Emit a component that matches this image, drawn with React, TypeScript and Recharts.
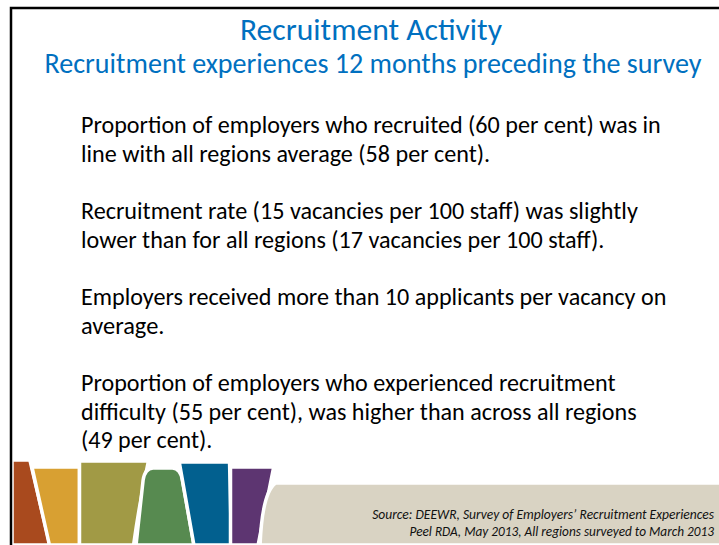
import React from 'react';
import { BarChart, Bar, XAxis, YAxis } from 'recharts';

// slide text
const TITLE = 'Recruitment Activity';
const SUBTITLE = 'Recruitment experiences 12 months preceding the survey';
const POINTS = [
  ['Proportion of employers who recruited (60 per cent) was in', 'line with all regions average (58 per cent).'],
  ['Recruitment rate (15 vacancies per 100 staff) was slightly', 'lower than for all regions (17 vacancies per 100 staff).'],
  ['Employers received more than 10 applicants per vacancy on', 'average.'],
  [
    'Proportion of employers who experienced recruitment',
    'difficulty (55 per cent), was higher than across all regions',
    '(49 per cent).',
  ],
];
const SOURCE_LINES = [
  'Source:  DEEWR, Survey of Employers\u2019 Recruitment Experiences',
  'Peel RDA, May 2013, All regions surveyed to March 2013',
];

// decorative footer bands
const BAND_KEYS = ['rust', 'gold', 'olive', 'green', 'blue', 'plum', 'sand'];
const BAND_SPANS = [28, 39.5, 61.5, 45.5, 44, 36, 463.5];
const BAND_RISES = [85, 78, 84, 77, 83, 78, 62];

const BAND_COLORS = ['#A94A1E', '#D8A032', '#A19A45', '#578A50', '#02608F', '#5D3571', '#D9D3C3'];
// [left lean, right lean] of each band edge, px
const BAND_LEANS = [[0, -10], [-9.5, 0], [0, 7.5], [5, -7.5], [-7.5, -1], [0, 8.5], [6.5, 0]];
const RISE_MAX = 90;

const FONT = 'Carlito, Calibri, Lato, sans-serif';

// Calibri advance widths (units of 1/2048 em)
const CW: Record<string, number> = {
  ' ': 463, '(': 621, ')': 621, ',': 511, '.': 517, ':': 548, '\u2019': 511,
  A: 1185, D: 1260, E: 1000, M: 1751, P: 1058, R: 1112, S: 941, W: 1822,
  a: 981, b: 1076, c: 866, d: 1076, e: 1019, f: 625, g: 964, h: 1076, i: 470, j: 490,
  k: 931, l: 470, m: 1636, n: 1076, o: 1080, p: 1076, q: 1076, r: 714, s: 801, t: 686,
  u: 1076, v: 925, w: 1464, x: 887, y: 927, z: 809,
};
const textWidth = (s: string, size: number) =>
  (s.split('').reduce((w, c) => w + (CW[c] ?? (/[0-9]/.test(c) ? 1038 : 1000)), 0) / 2048) * size;

const BandShape = (props: any) => {
  const { x, y, width, height, band } = props;
  const bottom = y + height;
  const top = bottom - (BAND_RISES[band] / RISE_MAX) * height;
  const mid = bottom - 42;
  const [ll, rl] = BAND_LEANS[band];
  const f = (mid - top) / 42.5;
  const g = (bottom - mid) / 42.5;
  const tl = x + ll * f;
  const bl = x - ll * g;
  const tr = x + width + rl * f;
  const br = x + width - rl * g;
  let d = `M${bl},${bottom} L${tl},${top} L${tr},${top} L${br},${bottom} Z`;
  if (BAND_KEYS[band] === 'olive') {
    d = `M${bl},${bottom} L${tl},${top} L${tr},${top} Q${tr - 9},${mid} ${br},${bottom} Z`;
  }
  if (BAND_KEYS[band] === 'green') {
    d = `M${bl},${bottom} L${tl - 2},${top + 12} Q${tl},${top} ${tl + 8},${top} L${tr - 8},${top} Q${tr},${top} ${tr + 2},${top + 12} L${br},${bottom} Z`;
  }
  if (BAND_KEYS[band] === 'sand') {
    d = `M${bl},${bottom} Q${bl + 2},${top + 10} ${tl + 6},${top} L${x + width},${top} L${x + width},${bottom} Z`;
  }
  return <path d={d} fill={BAND_COLORS[band]} stroke="#fff" strokeWidth={3.5} strokeLinejoin="round" />;
};

export default function App() {
  const row: Record<string, any> = { name: 'footer' };
  BAND_KEYS.forEach((k, i) => (row[k] = BAND_SPANS[i]));
  const total = BAND_SPANS.reduce((a, b) => a + b, 0);

  const bodyLines: { text: string; y: number }[] = [];
  let y = 133;
  POINTS.forEach((p) => {
    p.forEach((t) => {
      bodyLines.push({ text: t, y });
      y += 28.5;
    });
    y += 29;
  });

  return (
    <div style={{ position: 'absolute', left: 0, top: 0, width: 719, height: 545, overflow: 'hidden', background: '#fff' }}>
      <div style={{ position: 'absolute', left: 12, top: 455 }}>
        <BarChart
          width={total}
          height={90}
          data={[row]}
          layout="vertical"
          margin={{ top: 0, right: 0, bottom: 0, left: 0 }}
          barCategoryGap={0}
        >
          <XAxis type="number" domain={[0, total]} hide />
          <YAxis type="category" dataKey="name" hide />
          {BAND_KEYS.map((k, i) => (
            <Bar
              key={k}
              dataKey={k}
              stackId="bands"
              fill={BAND_COLORS[i]}
              isAnimationActive={false}
              shape={(p: any) => <BandShape {...p} band={i} />}
            />
          ))}
        </BarChart>
      </div>
      <svg width={719} height={545} style={{ position: 'absolute', left: 0, top: 0 }} fontFamily={FONT}>
        <rect x={11} y={8} width={760} height={600} fill="none" stroke="#000" strokeWidth={2.5} />
        <text x={371} y={40} fontSize={31} fill="#0070C0" textAnchor="middle"
          textLength={textWidth(TITLE, 31.5)} lengthAdjust="spacingAndGlyphs">
          {TITLE}
        </text>
        <text x={373} y={73} fontSize={28} fill="#0070C0" textAnchor="middle"
          textLength={textWidth(SUBTITLE, 28)} lengthAdjust="spacingAndGlyphs">
          {SUBTITLE}
        </text>
        {bodyLines.map((l) => (
          <text key={l.text} x={81} y={l.y} fontSize={24} fill="#000"
            textLength={textWidth(l.text, 24)} lengthAdjust="spacingAndGlyphs">
            {l.text}
          </text>
        ))}
        {SOURCE_LINES.map((s, i) => {
          const w = textWidth(s, 13.2);
          return (
            <text key={s} x={714 - w} y={519 + i * 17} fontSize={13.5} fontStyle="italic" fill="#111"
              textLength={w} lengthAdjust="spacingAndGlyphs">
              {s}
            </text>
          );
        })}
      </svg>
    </div>
  );
}
